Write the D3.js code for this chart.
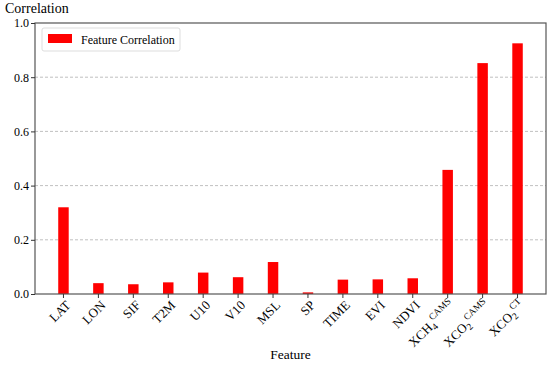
<!DOCTYPE html>
<html lang="en">
<head>
<meta charset="UTF-8">
<title>Feature Correlation</title>
<script src="https://d3js.org/d3.v7.min.js"></script>
<style>
  body { margin: 0; background: #fff; }
  svg text { font-family: "Liberation Serif", "Times New Roman", serif; fill: #000; }
</style>
</head>
<body>
<svg id="chart" width="550" height="367"></svg>
<script>
// feature names: [base, subscript, superscript]
const features = [
  ["LAT"], ["LON"], ["SIF"], ["T2M"], ["U10"], ["V10"], ["MSL"], ["SP"],
  ["TIME"], ["EVI"], ["NDVI"], ["XCH", "4", "CAMS"], ["XCO", "2", "CAMS"], ["XCO", "2", "CT"]
];
const correlations = [0.320, 0.040, 0.036, 0.043, 0.079, 0.062, 0.118, 0.006,
                      0.053, 0.054, 0.058, 0.458, 0.852, 0.925];
const yTicks = [0.0, 0.2, 0.4, 0.6, 0.8, 1.0];

const margin = { top: 23, right: 4, bottom: 73, left: 35 };
const W = 550, H = 367;
const iw = W - margin.left - margin.right;
const ih = H - margin.top - margin.bottom;
const barW = 0.3;

const svg = d3.select("#chart");
const g = svg.append("g").attr("transform", `translate(${margin.left},${margin.top})`);

const idx = d3.range(features.length);
const pad = (features.length - 1 + barW) * 0.05 + barW / 2;
const x = d3.scaleLinear().domain([-pad, features.length - 1 + pad]).range([0, iw]);
const y = d3.scaleLinear().domain([0, 1]).range([ih, 0]);

// grid
g.selectAll(".grid").data(yTicks.filter(t => t > 0 && t < 1)).enter()
  .append("line")
  .attr("x1", 0).attr("x2", iw)
  .attr("y1", d => y(d)).attr("y2", d => y(d))
  .attr("stroke", "#b0b0b0").attr("stroke-width", 0.8)
  .attr("stroke-dasharray", "3,2");

// bars
g.selectAll(".bar").data(correlations).enter()
  .append("rect")
  .attr("x", (d, i) => x(i - barW / 2))
  .attr("width", x(barW) - x(0))
  .attr("y", d => y(d))
  .attr("height", d => y(0) - y(d))
  .attr("fill", "#ff0000");

// frame
g.append("rect").attr("width", iw).attr("height", ih)
  .attr("fill", "none").attr("stroke", "#555").attr("stroke-width", 1.2);

// y axis
const yAxis = g.append("g").call(d3.axisLeft(y).tickValues(yTicks).tickFormat(d3.format(".1f")).tickSize(4));
yAxis.select(".domain").remove();
yAxis.selectAll("line").attr("stroke", "#333");
yAxis.selectAll("text").attr("font-size", 12).attr("x", -6);

// x ticks and labels
const xt = g.append("g").attr("transform", `translate(0,${ih})`);
xt.selectAll("line").data(idx).enter().append("line")
  .attr("x1", i => x(i)).attr("x2", i => x(i))
  .attr("y1", 0).attr("y2", 4).attr("stroke", "#333");

const lbl = xt.selectAll(".xl").data(features).enter().append("text")
  .attr("transform", (d, i) => `translate(${x(i) + 8},${12}) rotate(-45)`)
  .attr("text-anchor", "end")
  .attr("font-size", 13);
lbl.each(function(d) {
  const t = d3.select(this);
  t.append("tspan").text(d[0]);
  if (d.length > 1) {
    t.append("tspan").attr("font-size", 9.5).attr("dy", 3).text(d[1]);
    t.append("tspan").attr("font-size", 9.5).attr("dy", -9).text(d[2]);
  }
});

// axis titles
svg.append("text").attr("x", 5).attr("y", 13).attr("font-size", 14).text("Correlation");
svg.append("text").attr("x", margin.left + iw / 2).attr("y", 359)
  .attr("text-anchor", "middle").attr("font-size", 13.5).text("Feature");

// legend
const lg = g.append("g").attr("transform", "translate(7,5)");
lg.append("rect").attr("width", 138).attr("height", 23).attr("rx", 2)
  .attr("fill", "#fff").attr("fill-opacity", 0.8).attr("stroke", "#ddd");
lg.append("rect").attr("x", 6).attr("y", 6).attr("width", 24).attr("height", 9).attr("fill", "#ff0000");
lg.append("text").attr("x", 39).attr("y", 15.5).attr("font-size", 12).text("Feature Correlation");
</script>
</body>
</html>
